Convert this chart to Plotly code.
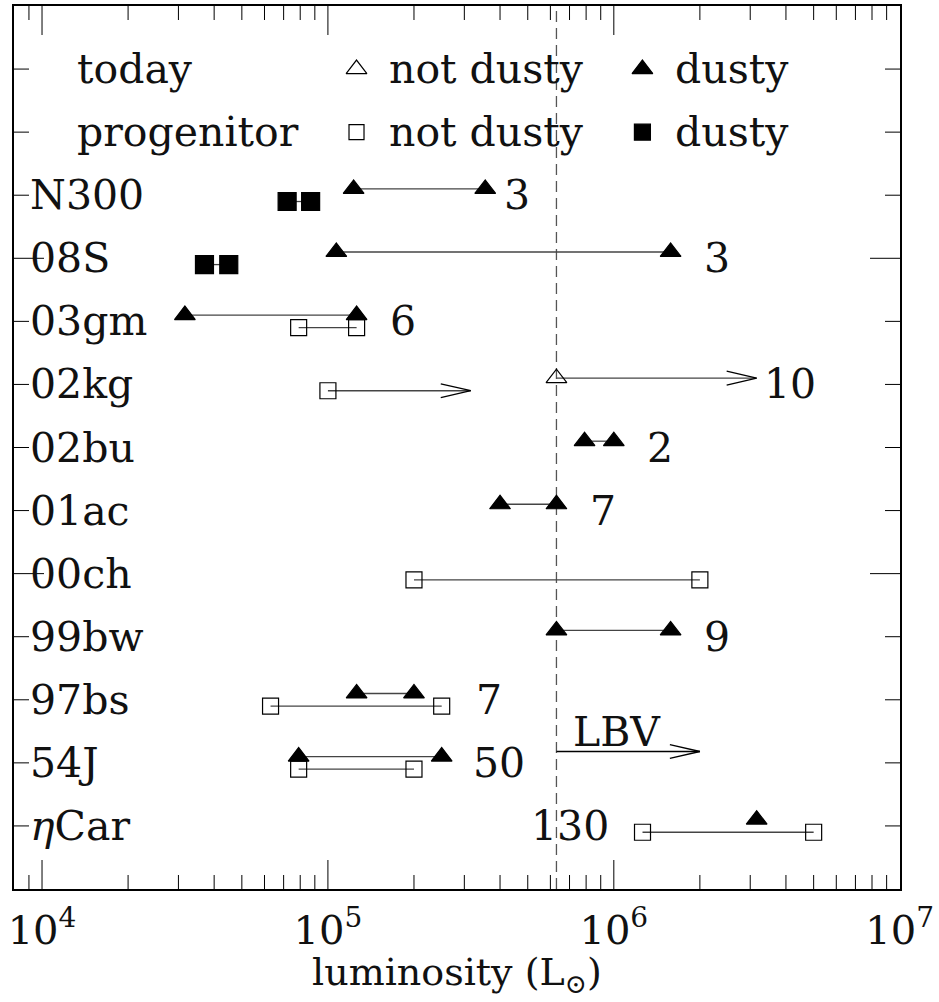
import math
import plotly.graph_objects as go

# ---- data: luminosities in solar units -------------------------------------
objects = ["N300", "08S", "03gm", "02kg", "02bu", "01ac", "00ch", "99bw",
           "97bs", "54J", "<i>η</i>Car"]
rows = [11, 10, 9, 8, 7, 6, 5, 4, 3, 2, 1]

today_L = [[1.23e5, 3.55e5], [1.07e5, 1.58e6], [3.16e4, 1.26e5], [6.3e5],
           [7.9e5, 1.0e6], [4.0e5, 6.3e5], [], [6.3e5, 1.58e6],
           [1.26e5, 2.0e5], [7.9e4, 2.5e5], [3.16e6]]
today_dusty = [True, True, True, False, True, True, None, True, True, True, True]
today_lower_limit_to = [None, None, None, 3.16e6, None, None, None, None,
                        None, None, None]

progenitor_L = [[7.2e4, 8.7e4], [3.7e4, 4.5e4], [7.9e4, 1.26e5], [1.0e5],
                [], [], [2.0e5, 2.0e6], [], [6.3e4, 2.5e5], [7.9e4, 2.0e5],
                [1.26e6, 5.0e6]]
progenitor_dusty = [True, True, False, False, None, None, False, None,
                    False, False, False]
progenitor_lower_limit_to = [None, None, None, 3.16e5, None, None, None, None,
                             None, None, None]

counts = ["3", "3", "6", "10", "2", "7", "", "9", "7", "50", "130"]

LBV_L = 6.3e5          # LBV luminosity threshold
LBV_ARROW_TO = 2.0e6
LBV_ROW = 2.18

tick_vals = [1e4, 1e5, 1e6, 1e7]
tick_text = ["10<sup>4</sup>", "10<sup>5</sup>", "10<sup>6</sup>", "10<sup>7</sup>"]

# ---- layout constants -------------------------------------------------------
FONT = "DejaVu Serif"
INK = "#111111"
LINE = "#444444"
X_RANGE = [3.902, 7.001]
Y_RANGE = [0, 14]
TODAY_DY = 0.1
PROG_DY = -0.1
count_label_x = [5.61, 6.31, 5.21, 6.52, 6.11, 5.91, None, 6.31, 5.51, 5.50, 5.99]
count_anchor = ["left"] * 10 + ["right"]

fig = go.Figure()


def chevron(tip, y):
    back = tip / 10 ** 0.105
    return [back, tip, back], [y + 0.11, y, y - 0.11]


def markers(xs, ys, symbol, size):
    return go.Scatter(x=xs, y=ys, mode="markers",
                      marker=dict(symbol=symbol, size=size, color="black",
                                  opacity=1,
                                  line=dict(color="black", width=1.2)),
                      hoverinfo="skip")


line_traces = []
marker_traces = []
for i, r in enumerate(rows):
    for vals, dusty, limit, dy, shape in (
        (today_L[i], today_dusty[i], today_lower_limit_to[i], TODAY_DY, "triangle-up"),
        (progenitor_L[i], progenitor_dusty[i], progenitor_lower_limit_to[i], PROG_DY, "square"),
    ):
        if not vals:
            continue
        y = r + dy
        xs = list(vals) + ([limit] if limit else [])
        if len(xs) > 1:
            line_traces.append(go.Scatter(x=xs, y=[y] * len(xs), mode="lines",
                                          line=dict(color=LINE, width=1.3),
                                          hoverinfo="skip"))
        if limit:
            cx, cy = chevron(limit, y)
            line_traces.append(go.Scatter(x=cx, y=cy, mode="lines",
                                          line=dict(color="black", width=1.3),
                                          hoverinfo="skip"))
        sym = shape if dusty else shape + "-open"
        size = (18 if dusty else 16) if shape == "square" else 18
        marker_traces.append(markers(vals, [y] * len(vals), sym, size))

# LBV lower-limit arrow
line_traces.append(go.Scatter(x=[LBV_L, LBV_ARROW_TO], y=[LBV_ROW, LBV_ROW],
                              mode="lines", line=dict(color="black", width=1.3),
                              hoverinfo="skip"))
cx, cy = chevron(LBV_ARROW_TO, LBV_ROW)
line_traces.append(go.Scatter(x=cx, y=cy, mode="lines",
                              line=dict(color="black", width=1.3), hoverinfo="skip"))

# legend symbols
legend_x = [10 ** 5.1, 10 ** 6.1]
marker_traces.append(markers([legend_x[0]], [13], "triangle-up-open", 18))
marker_traces.append(markers([legend_x[1]], [13], "triangle-up", 18))
marker_traces.append(markers([legend_x[0]], [12], "square-open", 15))
marker_traces.append(markers([legend_x[1]], [12], "square", 16))

for t in line_traces + marker_traces:
    fig.add_trace(t)

annotations = []


def text(x, y, s, anchor="left", size=41, xref="x", xshift=0):
    annotations.append(dict(x=x, y=y, xref=xref, yref="y", text=s,
                            showarrow=False, xanchor=anchor, yanchor="middle",
                            xshift=xshift,
                            font=dict(family=FONT, size=size, color=INK)))


# object names along the left edge
for name, r in zip(objects, rows):
    text(0, r, name, xref="paper", xshift=14)

# number counts
for c, lx, anc, r in zip(counts, count_label_x, count_anchor, rows):
    if c:
        text(lx, r, c, anchor=anc)

# legend text
text(4.115, 13, "today")
text(4.115, 12, "progenitor")
text(5.206, 13, "not dusty")
text(5.206, 12, "not dusty")
text(6.206, 13, "dusty")
text(6.206, 12, "dusty")

# LBV label
text(math.log10(LBV_L) + 0.05, 2.49, "LBV")

# x-axis title
annotations.append(dict(x=0.5, y=0, xref="paper", yref="paper",
                        text="luminosity (L<sub>⊙</sub>)", showarrow=False,
                        xanchor="center", yanchor="middle", yshift=-85,
                        font=dict(family=FONT, size=38, color=INK)))

# ---- frame ticks ------------------------------------------------------------
shapes = []
tick_line = dict(color="black", width=1)
for n in range(3, 7):
    for k in range(1, 10):
        v = k * 10 ** n
        lv = math.log10(v)
        if lv <= X_RANGE[0] + 0.002 or lv >= 7:
            continue
        ln = 29 if k == 1 else 14
        shapes.append(dict(type="line", xref="x", yref="paper", ysizemode="pixel",
                           yanchor=0, x0=v, x1=v, y0=0, y1=ln, line=tick_line))
        shapes.append(dict(type="line", xref="x", yref="paper", ysizemode="pixel",
                           yanchor=1, x0=v, x1=v, y0=0, y1=-ln, line=tick_line))
for r in range(1, 14):
    ln = 30 if r % 5 == 0 else 15
    shapes.append(dict(type="line", xref="paper", yref="y", xsizemode="pixel",
                       xanchor=0, x0=0, x1=ln, y0=r, y1=r, line=tick_line))
    shapes.append(dict(type="line", xref="paper", yref="y", xsizemode="pixel",
                       xanchor=1, x0=0, x1=-ln, y0=r, y1=r, line=tick_line))

# LBV threshold
shapes.append(dict(type="line", xref="x", yref="paper", x0=LBV_L, x1=LBV_L,
                   y0=0, y1=1, line=dict(color="#555555", width=1.3, dash="11px,6px"),
                   layer="below"))

fig.update_layout(
    width=939, height=1002,
    margin=dict(l=14, r=39, t=4, b=113),
    paper_bgcolor="white", plot_bgcolor="white",
    showlegend=False,
    annotations=annotations,
    shapes=shapes,
    xaxis=dict(type="log", range=X_RANGE, tickvals=tick_vals, ticktext=tick_text,
               ticks="", showgrid=False, zeroline=False, showline=True,
               mirror=True, linecolor="black", linewidth=1.5,
               ticklabelstandoff=5,
               tickfont=dict(family=FONT, size=40, color=INK)),
    yaxis=dict(range=Y_RANGE, showticklabels=False, ticks="", showgrid=False,
               zeroline=False, showline=True, mirror=True, linecolor="black",
               linewidth=1.5),
)

fig.write_html("out.html")
